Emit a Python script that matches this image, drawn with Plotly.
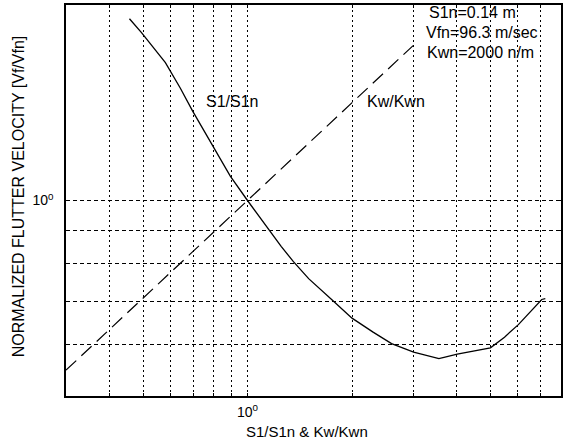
import plotly.graph_objects as go

# S1/S1n curve (solid)
s1_x = [0.457, 0.495, 0.58, 0.64, 0.695, 0.79, 0.892, 1.0, 1.149, 1.25, 1.356, 1.50, 1.747, 2.0, 2.30, 2.60, 3.01, 3.56, 4.02, 5.01, 5.50, 6.03, 7.04, 7.21]
s1_y = [1.905, 1.813, 1.63, 1.49, 1.373, 1.22, 1.09, 1.0, 0.902, 0.85, 0.805, 0.758, 0.704, 0.659, 0.627, 0.602, 0.584, 0.571, 0.58, 0.593, 0.616, 0.644, 0.704, 0.706]

# Kw/Kwn curve (dashed)
kw_x = [0.3, 0.5, 1.0, 2.0, 3.0]
kw_y = [0.548, 0.707, 1.0, 1.414, 1.732]

x_grid = [0.4, 0.5, 0.6, 0.7, 0.8, 0.9, 1, 2, 3, 4, 5, 6, 7]
y_grid = [0.6, 0.7, 0.8, 0.9, 1]
x_labels = ["10<sup>0</sup>" if v == 1 else " " for v in x_grid]
y_labels = ["10<sup>0</sup>" if v == 1 else " " for v in y_grid]

FONT = "Liberation Sans, Arial, sans-serif"

fig = go.Figure()
fig.add_trace(go.Scatter(x=s1_x, y=s1_y, mode="lines",
                         line=dict(color="black", width=1.3), showlegend=False))
fig.add_trace(go.Scatter(x=kw_x, y=kw_y, mode="lines",
                         line=dict(color="black", width=1.2, dash="14px,7px"), showlegend=False))

axis_common = dict(type="log", showline=True, linecolor="black", linewidth=1.5,
                   mirror="ticks", ticks="inside", ticklen=3, tickcolor="black",
                   showgrid=True, gridcolor="black", gridwidth=1,
                   zeroline=False, tickfont=dict(family=FONT, size=14, color="black"))

fig.update_xaxes(range=[-0.5229, 0.9031], tickvals=x_grid, ticktext=x_labels,
                 griddash="2px,3px", ticklabelstandoff=2, **axis_common)
fig.update_yaxes(range=[-0.30103, 0.30103], tickvals=y_grid, ticktext=y_labels,
                 griddash="4px,3px", ticklabelstandoff=8, **axis_common)

ann = []
def add(text, x, y, size=16, xanchor="center", angle=0):
    ann.append(dict(text=text, x=x, y=y, xref="paper", yref="paper", showarrow=False,
                    xanchor=xanchor, yanchor="middle", textangle=angle,
                    font=dict(family=FONT, size=size, color="black")))

add("S1/S1n", 0.336, 0.753)
add("Kw/Kwn", 0.666, 0.753)
add("S1n=0.14 m", (428 - 66) / 497, (396 - 13) / 390.5, xanchor="left")
add("Vfn=96.3 m/sec", (425 - 66) / 497, (396 - 33) / 390.5, xanchor="left")
add("Kwn=2000 n/m", (426 - 66) / 497, (396 - 52.7) / 390.5, xanchor="left")
add("S1/S1n &amp; Kw/Kwn", 0.487, -0.09, size=15)
add("NORMALIZED FLUTTER VELOCITY [Vf/Vfn]", -0.096, 0.512, size=16, angle=-90)

fig.update_layout(width=566, height=445, margin=dict(l=66, r=3, t=5, b=49),
                  plot_bgcolor="white", paper_bgcolor="white",
                  font=dict(family=FONT, color="black"), annotations=ann)

fig.write_html("out.html")
